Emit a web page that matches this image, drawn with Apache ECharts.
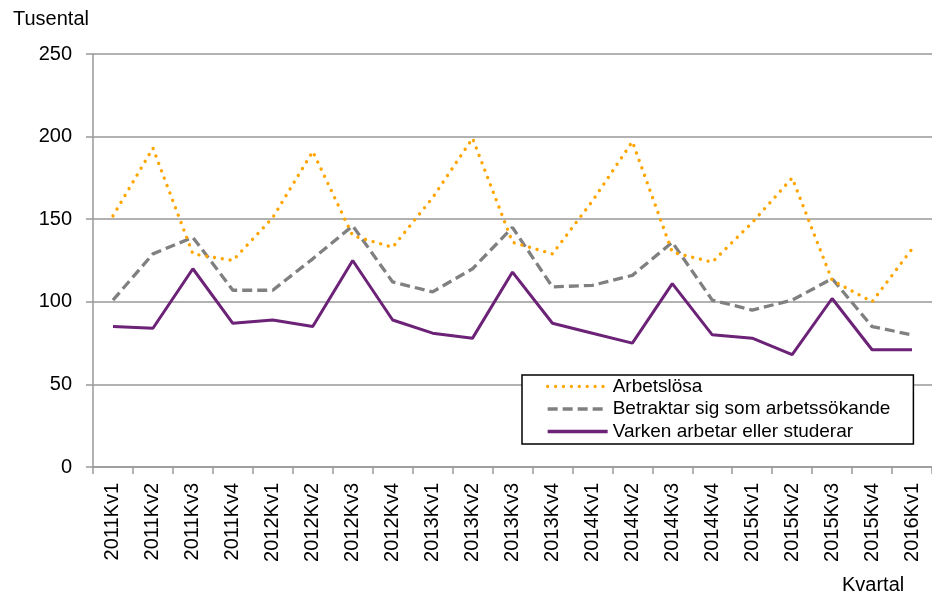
<!DOCTYPE html>
<html>
<head>
<meta charset="utf-8">
<script src="https://cdn.jsdelivr.net/npm/echarts@6/dist/echarts.min.js"></script>
<style>html,body{margin:0;padding:0;background:#fff}#c{width:932px;height:597px}</style>
</head>
<body>
<div id="c"></div>
<script>
const categories = ['2011Kv1','2011Kv2','2011Kv3','2011Kv4','2012Kv1','2012Kv2','2012Kv3','2012Kv4','2013Kv1','2013Kv2','2013Kv3','2013Kv4','2014Kv1','2014Kv2','2014Kv3','2014Kv4','2015Kv1','2015Kv2','2015Kv3','2015Kv4','2016Kv1'];
const arbetslosa = [152,193,129,125,151,191,140,133,163,199,136,129,161,197,130,124,148,175,113,100,132];
const betraktar = [101,129,139,107,107,126,146,112,106,120,145,109,110,116,136,101,95,101,114,85,80];
const varken = [85,84,120,87,89,85,125,89,81,78,118,87,81,75,111,80,78,68,102,71,71];
const seriesNames = ['Arbetslösa','Betraktar sig som arbetssökande','Varken arbetar eller studerar'];
const yTicks = {min:0, max:250, interval:50};

const FONT = '"Liberation Sans", Arial, sans-serif';
const chart = echarts.init(document.getElementById('c'), null, {renderer:'canvas'});
chart.setOption({
  animation:false,
  backgroundColor:'#fff',
  textStyle:{fontFamily:FONT},
  grid:{left:93, top:54, right:-5, bottom:130, containLabel:false},
  graphic:[
    {type:'text', left:13, top:9, style:{text:'Tusental', font:'20px '+FONT, fill:'#000'}},
    {type:'text', left:842, top:575, style:{text:'Kvartal', font:'20px '+FONT, fill:'#000'}}
  ],
  legend:{
    orient:'vertical', left:522, top:375,
    data:seriesNames,
    borderColor:'#000', borderWidth:1.5, backgroundColor:'#fff',
    padding:[2,23,3,24], itemGap:3.5, itemWidth:60, itemHeight:14,
    itemStyle:{opacity:0, borderWidth:0},
    lineStyle:{width:3.3},
    textStyle:{fontSize:19, color:'#000', fontFamily:FONT}
  },
  xAxis:{
    type:'category', data:categories, boundaryGap:true,
    axisLine:{lineStyle:{color:'#999', width:1.5}},
    axisTick:{show:true, length:7, lineStyle:{color:'#999', width:1.5}},
    axisLabel:{rotate:90, margin:16, fontSize:20, color:'#000', interval:0, fontFamily:FONT},
    splitLine:{show:false}
  },
  yAxis:{
    type:'value', min:yTicks.min, max:yTicks.max, interval:yTicks.interval,
    axisLine:{show:true, lineStyle:{color:'#999', width:1.5}},
    axisTick:{show:true, length:7, lineStyle:{color:'#999', width:1.5}},
    axisLabel:{margin:21, fontSize:20, color:'#000', fontFamily:FONT},
    splitLine:{show:true, lineStyle:{color:'#999', width:1.5}}
  },
  series:[
    {name:seriesNames[0], type:'line', data:arbetslosa, symbol:'none', color:'#FFA500',
     lineStyle:{color:'#FFA500', width:3.4, type:[0.01,7.9], cap:'round'}, z:3},
    {name:seriesNames[1], type:'line', data:betraktar, symbol:'none', color:'#808080',
     lineStyle:{color:'#808080', width:3.3, type:[10,5]}, z:2},
    {name:seriesNames[2], type:'line', data:varken, symbol:'none', color:'#6B2277',
     lineStyle:{color:'#6B2277', width:3, type:'solid'}, z:4}
  ]
});
</script>
</body>
</html>
